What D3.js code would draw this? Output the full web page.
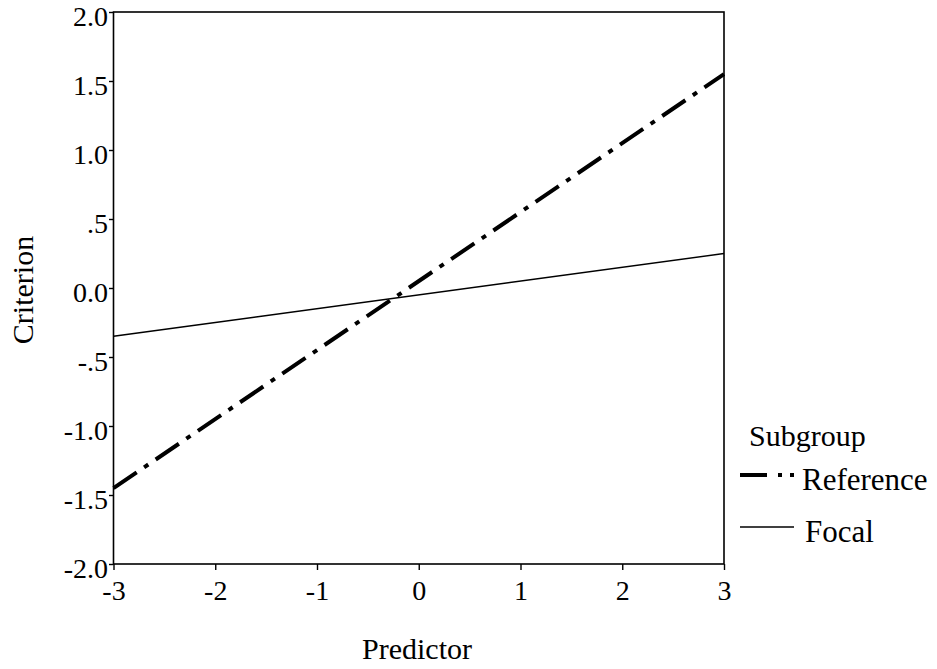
<!DOCTYPE html>
<html>
<head>
<meta charset="utf-8">
<script src="https://cdn.jsdelivr.net/npm/d3@7/dist/d3.min.js"></script>
<style>
  html, body { margin: 0; padding: 0; background: #fff; }
  text { font-family: "Liberation Serif", "Times New Roman", serif; fill: #000; }
</style>
</head>
<body>
<svg id="chart" width="937" height="669"></svg>
<script>
// ---- data ----
const predictorX = [-3, 3];
const referenceY = [-1.45, 1.55];
const focalY = [-0.35, 0.25];
const xTicks = [-3, -2, -1, 0, 1, 2, 3];
const yTicks = [2.0, 1.5, 1.0, 0.5, 0.0, -0.5, -1.0, -1.5, -2.0];
const yTickLabels = ["2.0", "1.5", "1.0", ".5", "0.0", "-.5", "-1.0", "-1.5", "-2.0"];
const seriesNames = ["Reference", "Focal"];

const svg = d3.select("#chart");
const pLeft = 113.5, pRight = 724, pTop = 12, pBottom = 564;
const x = d3.scaleLinear().domain([-3, 3]).range([pLeft, pRight]);
const y = d3.scaleLinear().domain([-2, 2]).range([pBottom, pTop]);
const fs = 28;

// frame
svg.append("rect")
  .attr("x", pLeft).attr("y", pTop)
  .attr("width", pRight - pLeft).attr("height", pBottom - pTop)
  .attr("fill", "none").attr("stroke", "#000").attr("stroke-width", 1.6);

// y axis
const yAxis = d3.axisLeft(y).tickValues(yTicks)
  .tickFormat((d, i) => yTickLabels[i]).tickSize(4.5).tickPadding(1);
const gy = svg.append("g").attr("transform", `translate(${pLeft},0)`).call(yAxis);
gy.attr("font-family", "Liberation Serif");
gy.select(".domain").remove();
gy.selectAll(".tick line").attr("stroke-width", 1.4);
gy.selectAll(".tick text")
  .attr("font-size", fs).attr("font-family", "Liberation Serif")
  .attr("dy", 13.5).attr("y", 0);

// x axis
const xAxis = d3.axisBottom(x).tickValues(xTicks).tickFormat(d3.format("d")).tickSize(6).tickPadding(0);
const gx = svg.append("g").attr("transform", `translate(0,${pBottom})`).call(xAxis);
gx.attr("font-family", "Liberation Serif");
gx.select(".domain").remove();
gx.selectAll(".tick line").attr("stroke-width", 1.4);
gx.selectAll(".tick text")
  .attr("font-size", fs).attr("font-family", "Liberation Serif")
  .attr("dy", null).attr("y", 36);
gx.selectAll(".tick text").text(d => d < 0 ? "-" + Math.abs(d) : String(d));

// lines
const line = d3.line().x(d => x(d[0])).y(d => y(d[1]));
svg.append("path")
  .datum(predictorX.map((v, i) => [v, focalY[i]]))
  .attr("d", line).attr("fill", "none").attr("stroke", "#000").attr("stroke-width", 1.4);
svg.append("path")
  .datum(predictorX.map((v, i) => [v, referenceY[i]]))
  .attr("d", line).attr("fill", "none").attr("stroke", "#000").attr("stroke-width", 4)
  .attr("stroke-dasharray", "28,9,5,9");

// axis titles
svg.append("text").attr("x", 417).attr("y", 659)
  .attr("text-anchor", "middle").attr("font-size", 30).text("Predictor");
svg.append("text").attr("transform", "translate(33,290) rotate(-90)")
  .attr("text-anchor", "middle").attr("font-size", 30).text("Criterion");

// legend
svg.append("text").attr("x", 749).attr("y", 446).attr("font-size", 30).text("Subgroup");
svg.append("line").attr("x1", 740).attr("x2", 794).attr("y1", 475).attr("y2", 475)
  .attr("stroke", "#000").attr("stroke-width", 4).attr("stroke-dasharray", "27,11,4,8,4,20");
svg.append("text").attr("x", 802).attr("y", 490).attr("font-size", 31).text(seriesNames[0]);
svg.append("line").attr("x1", 740).attr("x2", 794).attr("y1", 527).attr("y2", 527)
  .attr("stroke", "#000").attr("stroke-width", 1.4);
svg.append("text").attr("x", 805).attr("y", 542).attr("font-size", 31).text(seriesNames[1]);
</script>
</body>
</html>
